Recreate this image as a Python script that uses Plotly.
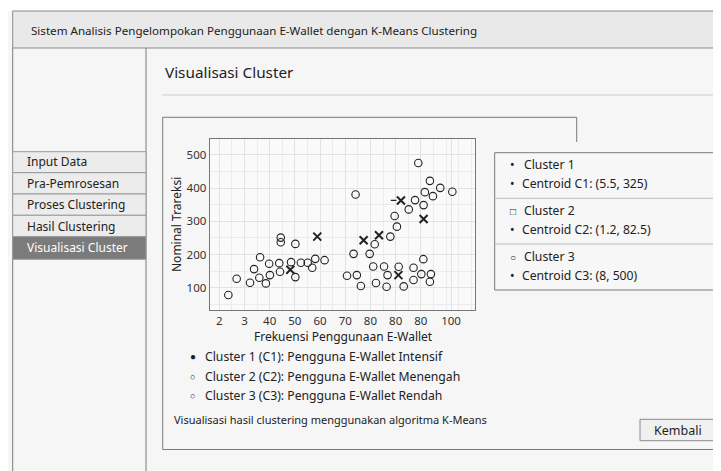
import plotly.graph_objects as go

# The page body has an 8px margin, so the figure is drawn 8px in from the top-left.
OFF = 8
WIN_W, WIN_H = 721, 471
W, H = WIN_W - OFF, WIN_H - OFF

# ---- data (x in axis units where tick "2" sits at 20) ----
c2_x = [23.6, 26.9, 32.2, 33.8, 35.9, 36.2, 38.5, 39.8, 40.1, 43.8, 44.1, 44.4, 44.4,
        48.5, 50.2, 50.2, 52.4, 55.1, 56.9, 58.1, 61.8]
c2_y = [78, 127, 115, 156, 130, 192, 113, 172, 138, 174, 148, 251, 237,
        177, 232, 132, 175, 175, 160, 187, 183]
c3_x = [70.7, 74.6, 73.3, 76.2, 79.7, 81.1, 82.2, 85.4, 86.4, 86.8, 91.2, 93.2,
        97.1, 97.1, 100.2, 101.0, 104.0, 103.6]
c3_y = [136, 138, 202, 105, 202, 164, 114, 164, 103, 138, 163, 104,
        160, 123, 141, 186, 141, 118]
c1_x = [74.1, 81.7, 87.9, 90.5, 89.6, 95.2, 97.7, 99.0, 101.1, 101.6, 103.6, 104.8, 107.7, 112.5]
c1_y = [381, 231, 254, 284, 316, 336, 364, 476, 349, 388, 422, 376, 401, 389]
cent_x = [48.2, 58.9, 77.3, 83.4, 92.1, 101.1, 91.1]
cent_y = [154, 254, 243, 258, 363, 307, 138]
dash_x = [89.2]
dash_y = [363]

x_tickvals = [20, 30, 40, 50, 60, 70, 80, 90, 100, 112]
x_ticktext = ["2", "3", "40", "50", "60", "70", "80", "80", "80", "100"]
y_tickvals = [100, 200, 300, 400, 500]

header_title = "Sistem Analisis Pengelompokan Penggunaan E-Wallet dengan K-Means Clustering"
menu_items = ["Input Data", "Pra-Pemrosesan", "Proses Clustering", "Hasil Clustering", "Visualisasi Cluster"]
legend_rows = [("•", "Cluster 1"), ("•", "Centroid C1: (5.5, 325)"),
               ("□", "Cluster 2"), ("•", "Centroid C2: (1.2, 82.5)"),
               ("○", "Cluster 3"), ("•", "Centroid C3: (8, 500)")]
bottom_legend = [("●", "Cluster 1 (C1): Pengguna E-Wallet Intensif"),
                 ("○", "Cluster 2 (C2): Pengguna E-Wallet Menengah"),
                 ("○", "Cluster 3 (C3): Pengguna E-Wallet Rendah")]

FONT = "Noto Sans"
TXT = "#222222"
LINE = "#7a7a7a"


def X(p):
    return (p - OFF) / W


def Y(p):
    return 1 - (p - OFF) / H


fig = go.Figure()
pt = dict(symbol="circle-open", size=7.5, color="#222", line=dict(width=1.1, color="#222"))
for xs, ys, nm in [(c1_x, c1_y, "C1"), (c2_x, c2_y, "C2"), (c3_x, c3_y, "C3")]:
    fig.add_trace(go.Scatter(x=xs, y=ys, mode="markers", marker=pt, name=nm, showlegend=False))
fig.add_trace(go.Scatter(x=cent_x, y=cent_y, mode="markers", showlegend=False,
                         marker=dict(symbol="x-thin-open", size=8, color="#222",
                                     line=dict(width=2, color="#222"))))
fig.add_trace(go.Scatter(x=dash_x, y=dash_y, mode="markers", showlegend=False,
                         marker=dict(symbol="line-ew-open", size=4, color="#222",
                                     line=dict(width=1.2, color="#222"))))

shapes = []


def rect(x0, y0, x1, y1, fill=None, line=LINE, w=1):
    shapes.append(dict(type="rect", xref="paper", yref="paper", x0=X(x0), x1=X(x1), y0=Y(y1), y1=Y(y0),
                       fillcolor=fill if fill else "rgba(0,0,0,0)",
                       line=dict(color=line, width=w) if w else dict(width=0), layer="below"))


def hline(x0, x1, y, color=LINE, w=1):
    shapes.append(dict(type="line", xref="paper", yref="paper", x0=X(x0), x1=X(x1), y0=Y(y), y1=Y(y),
                       line=dict(color=color, width=w), layer="below"))


def vline(x, y0, y1, color=LINE, w=1):
    shapes.append(dict(type="line", xref="paper", yref="paper", x0=X(x), x1=X(x), y0=Y(y0), y1=Y(y1),
                       line=dict(color=color, width=w), layer="below"))


# top white strip
rect(0, 0, WIN_W + 5, 10.5, fill="#ffffff", w=0)
# header
rect(12.7, 11, WIN_W + 5, 48, fill="#e9e9e9", line="#8a8a8a")
# sidebar borders
vline(12.7, 48, WIN_H + 2)
vline(146, 48, WIN_H + 2)
# menu items
tops = [151.7, 172.7, 194, 215.3, 236.7, 259.3]
for i in range(5):
    sel = i == 4
    rect(12.7, tops[i], 146, tops[i + 1], fill="#7b7b7b" if sel else "#ececec", line="#9a9a9a")
# hr under page title
hline(162, WIN_W + 2, 95, color="#cfcfcf")
# card
hline(162.7, 576.7, 117.3)
vline(576.7, 117.3, 142)
vline(162.7, 117.3, 449.5)
hline(162.7, WIN_W + 2, 449.5)
# legend box
rect(494.7, 152.7, 718, 290, fill="#f7f7f7", line=LINE)
hline(494.7, 718, 198.3, color="#bdbdbd")
hline(494.7, 718, 244, color="#bdbdbd")
# button
rect(640, 419.3, 716.7, 440.7, fill="#f0f0f0", line="#8a8a8a")

ann = []


def text(x, y, s, size=12, color=TXT, xanchor="left", angle=0):
    ann.append(dict(xref="paper", yref="paper", x=X(x), y=Y(y), text=s, showarrow=False,
                    xanchor=xanchor, yanchor="middle", textangle=angle,
                    font=dict(family=FONT, size=size, color=color)))


text(28.5, 30, header_title, size=11.6)
text(163, 72, "Visualisasi Cluster", size=15.3)
menu_y = [161.7, 183.3, 204.5, 226, 247.7]
for i, m in enumerate(menu_items):
    text(24.5, menu_y[i], m, size=12, color="#ffffff" if i == 4 else TXT)
leg_y = [164, 183.3, 210.7, 229.3, 256.7, 275]
for (b, s), yy in zip(legend_rows, leg_y):
    if s.startswith("Centroid"):
        text(508, yy, b, size=12)
        text(520, yy, s, size=12.2)
    else:
        text(507.5, yy, b, size=10 if b != "•" else 12)
        text(521.7, yy, s, size=12.2)
bl_y = [356, 376, 395]
for (b, s), yy in zip(bottom_legend, bl_y):
    text(188, yy, b, size=10 if b == "●" else 9)
    text(203, yy, s, size=12.2)
text(172, 419.3, "Visualisasi hasil clustering menggunakan algoritma K-Means", size=11)
text(678.3, 430, "Kembali", size=12.5, xanchor="center")
text(343, 336, "Frekuensi Penggunaan E-Wallet", size=12, xanchor="center")
text(176, 225, "Nominal Trareksi", size=12, xanchor="center", angle=-90)

fig.update_layout(
    width=W, height=H, autosize=False,
    margin=dict(l=0, r=0, t=0, b=0),
    paper_bgcolor="#f6f6f6",
    plot_bgcolor="#fafafa",
    shapes=shapes,
    annotations=ann,
    showlegend=False,
    xaxis=dict(domain=[X(209.7), X(475)], range=[16.2, 121.5],
               tickvals=x_tickvals, ticktext=x_ticktext,
               tickfont=dict(family=FONT, size=11.5, color="#333"),
               showgrid=True, gridcolor="#e2e2e2", gridwidth=1,
               minor=dict(dtick=5, tick0=0, showgrid=True, gridcolor="#ececec", gridwidth=1),
               showline=True, mirror=True, linecolor="#777", linewidth=1.2,
               zeroline=False, ticks="", fixedrange=True),
    yaxis=dict(domain=[Y(310), Y(139.3)], range=[32.8, 547.3],
               tickvals=y_tickvals,
               tickfont=dict(family=FONT, size=11.5, color="#333"),
               showgrid=True, gridcolor="#e2e2e2", gridwidth=1,
               minor=dict(dtick=50, showgrid=True, gridcolor="#ececec", gridwidth=1),
               showline=True, mirror=True, linecolor="#777", linewidth=1.2,
               zeroline=False, ticks="", fixedrange=True),
)

fig.write_html("out.html", config={"displayModeBar": False})
